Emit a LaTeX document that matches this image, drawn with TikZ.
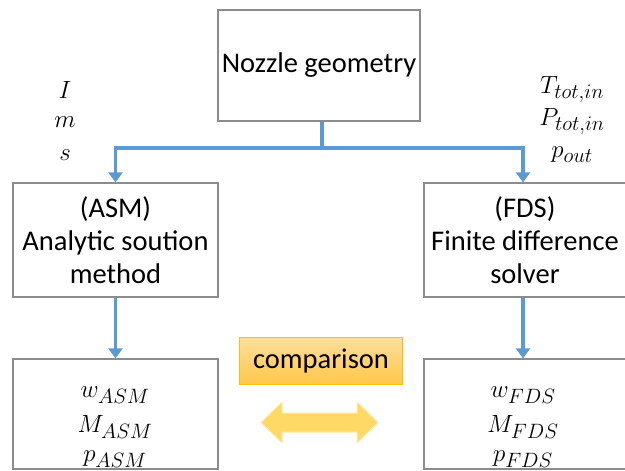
\documentclass[tikz,border=0pt]{standalone}
\usepackage{fontspec}
\setmainfont{Carlito}
\usetikzlibrary{arrows.meta}
\definecolor{bluel}{HTML}{5B9BD5}
\definecolor{boxgray}{HTML}{8C8C8C}
\definecolor{orgtop}{HTML}{FFDD9E}
\definecolor{orgbot}{HTML}{FFC84A}
\definecolor{orgline}{HTML}{FFC000}
\definecolor{dbl}{HTML}{FFD966}
\begin{document}
\begin{tikzpicture}[x=1pt,y=-1pt,
  txt/.style={font=\fontsize{28.5}{33}\selectfont},
  box/.style={draw=boxgray,line width=1.2pt,fill=white,inner sep=0pt,align=center,txt},
  conn/.style={draw=bluel,line width=3.2pt},
  arr/.style={conn,-{Triangle[length=10pt,width=14pt]}},
  lab/.style={font=\fontsize{28}{32}\selectfont,inner sep=0pt}
]
\useasboundingbox (0,0) rectangle (625,471);
\clip (0,0) rectangle (625,471);
% boxes
\node[box,minimum width=202pt,minimum height=111pt] (noz) at (319,65.5) {Nozzle geometry};
\node[box,minimum width=205pt,minimum height=114pt] (asm) at (115.5,240) {(ASM)\\Analytic soution\\method};
\node[box,minimum width=202pt,minimum height=114pt] (fds) at (525,240) {(FDS)\\Finite difference\\solver};
\node[box,minimum width=205pt,minimum height=110pt] (asmr) at (115.5,414) {};
\node[box,minimum width=202pt,minimum height=110pt] (fdsr) at (525,414) {};
% result texts
\node[lab] (w1) at (115,395) {$w_{ASM}$};
\node[lab] (m1) at (115,427) {$M_{ASM}$};
\node[lab] (p1) at (115,459) {$p_{ASM}$};
\node[lab] (w2) at (523,395) {$w_{FDS}$};
\node[lab] (m2) at (523,427) {$M_{FDS}$};
\node[lab] (p2) at (523,459) {$p_{FDS}$};
% side labels
\node[lab] (lI) at (65,90) {$I$};
\node[lab] (lm) at (65,122) {$m$};
\node[lab] (ls) at (65,155) {$s$};
\node[lab] (lT) at (572,90) {$T_{tot,in}$};
\node[lab] (lP) at (572,122) {$P_{tot,in}$};
\node[lab] (lp) at (572,155) {$p_{out}$};
% connectors
\coordinate (split) at (322,148);
\draw[conn] ([xshift=3pt]noz.south) -- (split);
\draw[arr] (split) -| (asm.north);
\draw[arr] (split) -| ([xshift=-2pt]fds.north);
\draw[arr] (asm.south) -- (asmr.north);
\draw[arr] ([xshift=-2pt]fds.south) -- ([xshift=-2pt]fdsr.north);
% comparison
\node[draw=orgline,line width=1pt,top color=orgtop,bottom color=orgbot,minimum width=163pt,minimum height=47pt,inner sep=0pt,txt] (cmp) at (321,360.5) {comparison};
\draw[fill=dbl,draw=dbl!55,line width=1pt,line join=round]
  (261,422.5) -- (282,402) -- (282,413) -- (357,413) -- (357,402) -- (378,422.5)
  -- (357,443) -- (357,432) -- (282,432) -- (282,443) -- cycle;
\end{tikzpicture}
\end{document}
